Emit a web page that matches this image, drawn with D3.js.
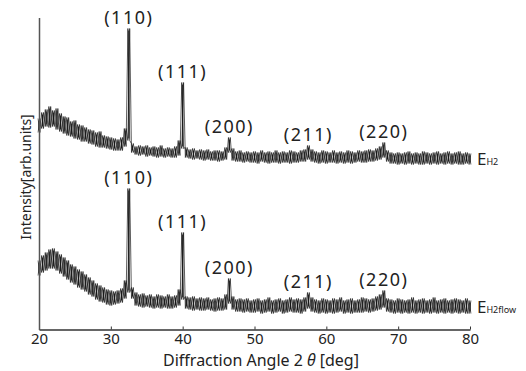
<!DOCTYPE html>
<html>
<head>
<meta charset="utf-8">
<script src="https://cdn.jsdelivr.net/npm/d3@7"></script>
<style>
  body { margin: 0; background: #fff; }
  svg text { font-family: "Noto Sans", "DejaVu Sans", sans-serif; fill: #222; }
</style>
</head>
<body>
<div id="chart"></div>
<script>
// 2theta grid, one bin every 0.5 deg
const angleStart = 20, angleStep = 0.5;
const angles = d3.range(0, 121).map(i => angleStart + i * angleStep);

// E_H2 (upper trace): max / min of each bin, arb. units
const eH2Max = [
  64,70,73,76,72,74,69,66,65,
  61,62,58,57,55,53,52,50,51,
  47,46,45,44,43,45,54,154,39,
  36,37,36,37,35,36,35,37,34,
  35,34,36,42,100,35,33,34,32,
  33,32,33,31,32,32,31,35,45,
  34,31,32,30,31,30,31,30,32,
  30,31,30,32,30,31,30,32,31,
  30,32,33,37,33,31,30,32,31,
  30,32,30,31,30,32,31,30,32,
  31,32,33,32,34,36,40,32,30,
  29,30,29,30,31,29,30,29,31,
  30,29,30,31,29,30,31,29,30,
  31,29,30,29
];
const eH2Min = [
  50,54,56,55,56,53,51,49,47,
  46,44,43,41,41,39,38,36,35,
  35,34,33,32,32,32,36,42,30,
  28,27,28,26,27,26,25,26,25,
  26,25,25,27,34,25,24,23,24,
  23,22,23,22,22,21,22,23,30,
  22,21,21,20,21,20,20,19,21,
  20,19,20,20,19,20,20,19,20,
  20,21,21,23,21,20,19,20,19,
  20,20,19,20,19,20,19,20,21,
  20,20,21,21,22,23,25,21,19,
  19,18,19,18,19,18,19,18,18,
  19,18,19,18,19,18,19,18,19,
  18,18,19,18
];

// E_H2flow (lower trace)
const eH2flowMax = [
  69,74,77,80,81,78,75,72,69,
  65,63,60,58,55,52,49,46,44,
  42,40,39,38,39,41,49,141,42,
  37,35,36,34,35,33,35,34,33,
  35,33,34,40,97,33,32,33,31,
  32,31,32,30,31,32,31,35,51,
  33,30,31,30,31,29,30,31,29,
  30,32,29,30,31,29,30,32,30,
  31,30,32,37,32,30,29,31,30,
  29,31,30,32,29,30,31,29,30,
  32,31,30,31,33,35,39,31,30,
  29,31,30,29,30,32,29,30,31,
  29,30,32,29,30,31,29,30,31,
  30,29,31,29
];
const eH2flowMin = [
  54,57,59,61,61,59,56,53,50,
  47,45,42,40,38,35,33,30,28,
  27,25,24,25,26,27,31,37,31,
  24,23,22,23,22,21,22,21,22,
  21,21,22,24,30,21,20,19,20,
  19,19,20,19,18,19,19,20,26,
  20,18,18,17,18,17,17,18,16,
  17,18,16,17,18,16,17,18,17,
  17,16,18,21,18,17,16,17,16,
  17,16,17,18,16,17,16,17,17,
  17,18,17,18,19,20,22,18,17,
  16,17,16,17,16,17,16,17,16,
  17,16,17,16,17,16,17,16,17,
  16,17,16,16
];

const peakAngles = [32.5, 40.0, 46.5, 57.5, 68.0];
const peakLabels = ["(110)", "(111)", "(200)", "(211)", "(220)"];
const xTicks = [20, 30, 40, 50, 60, 70, 80];

const series = [
  { name: "E", sub: "H2", max: eH2Max, min: eH2Min, offset: 147 },
  { name: "E", sub: "H2flow", max: eH2flowMax, min: eH2flowMin, offset: 0 }
];

const width = 526, height = 371;
const svg = d3.select("#chart").append("svg")
    .attr("width", width)
    .attr("height", height);

const xScale = d3.scaleLinear().domain([20, 80]).range([39, 470]);
const yScale = d3.scaleLinear().domain([0, 312]).range([329.5, 17.5]);

const line = d3.line().x(d => d[0]).y(d => d[1]);

series.forEach(s => {
    const yMax = i => yScale(s.max[i] + s.offset);
    const yMin = i => yScale(s.min[i] + s.offset);

    // one vertical stroke per bin, min to max
    svg.append("g").selectAll("line")
        .data(angles)
        .join("line")
        .attr("x1", a => xScale(a))
        .attr("x2", a => xScale(a))
        .attr("y1", (a, i) => yMax(i) + 2)
        .attr("y2", (a, i) => yMin(i) - 2)
        .attr("stroke", "#333")
        .attr("stroke-width", 1.2);

    // two zigzags through the bin extremes, opposite phase
    const ptsA = [], ptsB = [];
    angles.forEach((a, i) => {
        ptsA.push([xScale(a) - 0.9, yMax(i)]);
        ptsA.push([xScale(a) + 0.9, yMin(i)]);
        ptsB.push([xScale(a) - 0.9, yMin(i)]);
        ptsB.push([xScale(a) + 0.9, yMax(i)]);
    });
    [ptsA, ptsB].forEach(pts => {
        svg.append("path")
            .attr("d", line(pts))
            .attr("fill", "none")
            .attr("stroke", "#111")
            .attr("stroke-opacity", 0.85)
            .attr("stroke-width", 0.8);
    });

    // peak labels
    peakAngles.forEach((p, k) => {
        const i = Math.round((p - angleStart) / angleStep);
        const top = d3.max(s.max.slice(i - 1, i + 2));
        svg.append("text")
            .attr("x", xScale(p))
            .attr("y", yScale(top + s.offset) - 5)
            .attr("text-anchor", "middle")
            .attr("font-size", 18)
            .attr("letter-spacing", 1.5)
            .text(peakLabels[k]);
    });

    // series name at the right end
    const last = angles.length - 1;
    const yEnd = yScale((s.max[last] + s.min[last]) / 2 + s.offset) + 6;
    const t = svg.append("text")
        .attr("x", xScale(80) + 7)
        .attr("y", yEnd)
        .attr("font-size", 17);
    t.append("tspan").text(s.name);
    t.append("tspan").attr("font-size", 9).text(s.sub);
});

// axes
const xAxis = d3.axisBottom(xScale)
    .tickValues(xTicks)
    .tickSizeInner(-3)
    .tickSizeOuter(0)
    .tickPadding(4);

const gx = svg.append("g")
    .attr("transform", "translate(0,329.5)")
    .call(xAxis);
gx.select(".domain").attr("stroke", "#333").attr("stroke-width", 1.5);
gx.selectAll(".tick line").attr("stroke", "#333");
gx.selectAll(".tick text")
    .attr("font-size", 15)
    .attr("font-family", "\"Noto Sans\", sans-serif")
    .attr("fill", "#222");

const gy = svg.append("g")
    .attr("transform", "translate(39,0)")
    .call(d3.axisLeft(yScale).ticks(0).tickSizeOuter(0));
gy.select(".domain").attr("stroke", "#555").attr("stroke-width", 1.5);

// axis titles
const xt = svg.append("text")
    .attr("x", 261)
    .attr("y", 366)
    .attr("text-anchor", "middle")
    .attr("font-size", 16);
xt.append("tspan").text("Diffraction Angle 2 ");
xt.append("tspan").attr("font-style", "italic").text("θ");
xt.append("tspan").text(" [deg]");

svg.append("text")
    .attr("transform", "translate(31,177) rotate(-90)")
    .attr("text-anchor", "middle")
    .attr("font-size", 14)
    .text("Intensity[arb.units]");
</script>
</body>
</html>
